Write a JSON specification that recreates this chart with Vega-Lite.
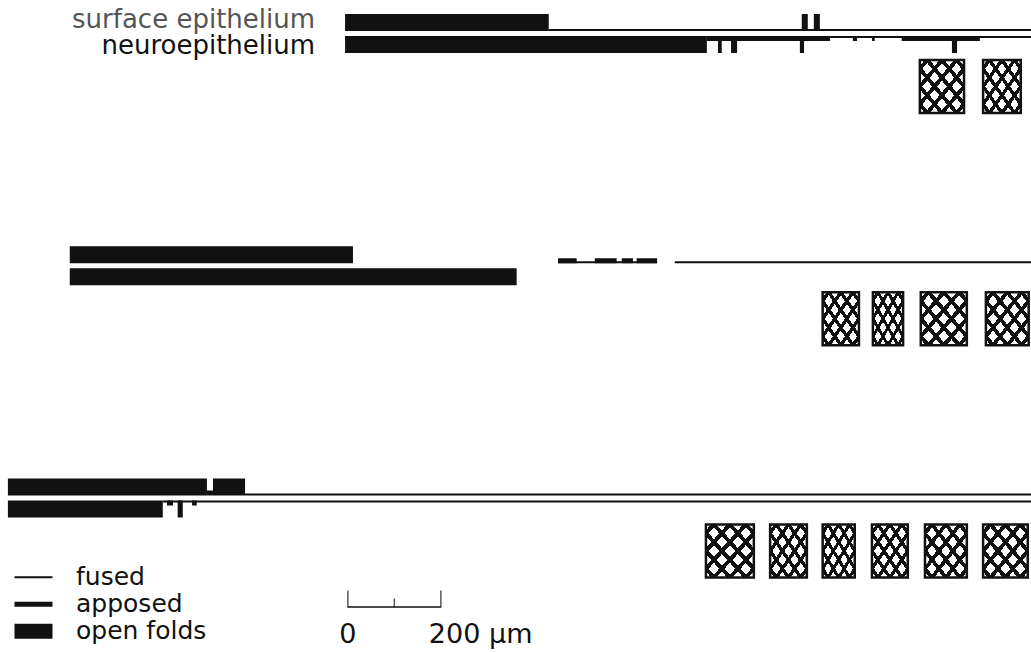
{
  "$schema": "https://vega.github.io/schema/vega-lite/v6.json",
  "width": 1031,
  "height": 652,
  "autosize": {"type": "none"},
  "padding": 0,
  "background": "white",
  "config": {"view": {"stroke": null}, "font": "DejaVu Sans"},
  "datasets": {
    "segments": [
      {"embryo": "A", "tissue": "surface epithelium", "state": "open folds", "start": -6, "end": 432},
      {"embryo": "A", "tissue": "surface epithelium", "state": "fused", "start": 432, "end": 1469},
      {"embryo": "A", "tissue": "surface epithelium", "state": "open folds", "start": 976, "end": 989},
      {"embryo": "A", "tissue": "surface epithelium", "state": "open folds", "start": 1002, "end": 1015},
      {"embryo": "A", "tissue": "neuroepithelium", "state": "open folds", "start": -6, "end": 772},
      {"embryo": "A", "tissue": "neuroepithelium", "state": "apposed", "start": 772, "end": 1037},
      {"embryo": "A", "tissue": "neuroepithelium", "state": "open folds", "start": 796, "end": 804},
      {"embryo": "A", "tissue": "neuroepithelium", "state": "open folds", "start": 824, "end": 837},
      {"embryo": "A", "tissue": "neuroepithelium", "state": "open folds", "start": 972, "end": 981},
      {"embryo": "A", "tissue": "neuroepithelium", "state": "fused", "start": 1037, "end": 1469},
      {"embryo": "A", "tissue": "neuroepithelium", "state": "apposed", "start": 1086, "end": 1095},
      {"embryo": "A", "tissue": "neuroepithelium", "state": "apposed", "start": 1127, "end": 1133},
      {"embryo": "A", "tissue": "neuroepithelium", "state": "apposed", "start": 1191, "end": 1359},
      {"embryo": "A", "tissue": "neuroepithelium", "state": "open folds", "start": 1299, "end": 1310},
      {"embryo": "B", "tissue": "surface epithelium", "state": "open folds", "start": -598, "end": 11},
      {"embryo": "B", "tissue": "surface epithelium", "state": "fused", "start": 452, "end": 665},
      {"embryo": "B", "tissue": "surface epithelium", "state": "apposed", "start": 452, "end": 492},
      {"embryo": "B", "tissue": "surface epithelium", "state": "apposed", "start": 531, "end": 578},
      {"embryo": "B", "tissue": "surface epithelium", "state": "apposed", "start": 589, "end": 613},
      {"embryo": "B", "tissue": "surface epithelium", "state": "apposed", "start": 621, "end": 665},
      {"embryo": "B", "tissue": "surface epithelium", "state": "fused", "start": 703, "end": 1469},
      {"embryo": "B", "tissue": "neuroepithelium", "state": "open folds", "start": -598, "end": 363},
      {"embryo": "C", "tissue": "surface epithelium", "state": "open folds", "start": -731, "end": -303},
      {"embryo": "C", "tissue": "surface epithelium", "state": "apposed", "start": -303, "end": -290},
      {"embryo": "C", "tissue": "surface epithelium", "state": "open folds", "start": -290, "end": -221},
      {"embryo": "C", "tissue": "surface epithelium", "state": "fused", "start": -221, "end": 1469},
      {"embryo": "C", "tissue": "neuroepithelium", "state": "open folds", "start": -731, "end": -398},
      {"embryo": "C", "tissue": "neuroepithelium", "state": "fused", "start": -398, "end": 1469},
      {"embryo": "C", "tissue": "neuroepithelium", "state": "apposed", "start": -389, "end": -376},
      {"embryo": "C", "tissue": "neuroepithelium", "state": "open folds", "start": -366, "end": -355},
      {"embryo": "C", "tissue": "neuroepithelium", "state": "apposed", "start": -335, "end": -325}
    ],
    "somites": [
      {"embryo": "A", "start": 1230, "end": 1325},
      {"embryo": "A", "start": 1366, "end": 1447},
      {"embryo": "B", "start": 1021, "end": 1099},
      {"embryo": "B", "start": 1129, "end": 1194},
      {"embryo": "B", "start": 1232, "end": 1331},
      {"embryo": "B", "start": 1372, "end": 1464},
      {"embryo": "C", "start": 770, "end": 873},
      {"embryo": "C", "start": 908, "end": 987},
      {"embryo": "C", "start": 1021, "end": 1090},
      {"embryo": "C", "start": 1127, "end": 1204},
      {"embryo": "C", "start": 1241, "end": 1331},
      {"embryo": "C", "start": 1366, "end": 1462}
    ],
    "scalebar": [
      {"um": 0, "major": true, "label": "0"},
      {"um": 100, "major": false, "label": ""},
      {"um": 200, "major": true, "label": "200 μm"}
    ]
  },
  "layer": [
    {
      "data": {"name": "segments"},
      "transform": [{"filter": "false"}],
      "mark": {"type": "rule", "color": "#111"},
      "encoding": {
        "x": {"field": "start", "type": "quantitative", "axis": null, "scale": {"domain": [-748, 1469], "nice": false, "zero": false}},
        "x2": {"field": "end"},
        "y": {"field": "embryo", "type": "nominal", "axis": null, "scale": {"domain": ["A", "B", "C"], "range": [-82.6, 614.1], "paddingInner": 0, "paddingOuter": 0}},
        "strokeWidth": {"field": "state", "type": "nominal", "title": null,
          "scale": {"type": "ordinal", "domain": ["fused", "apposed", "open folds"], "range": [2, 5, 15]},
          "legend": {"orient": "none", "legendX": 7, "legendY": 564, "padding": 0, "symbolType": "stroke", "symbolSize": 1444, "symbolStrokeColor": "#111", "labelFontSize": 25, "labelFont": "DejaVu Sans", "labelColor": "#111", "labelOffset": 16, "rowPadding": 0, "clipHeight": 26.5, "title": null}}
      }
    },
    {
      "data": {"name": "segments"},
      "transform": [{"filter": "datum.tissue == 'surface epithelium' && datum.state == 'fused'"}],
      "mark": {"type": "bar", "color": "#111", "height": 2, "yOffset": -3.5},
      "encoding": {
        "x": {"field": "start", "type": "quantitative"},
        "x2": {"field": "end"},
        "y": {"field": "embryo", "type": "nominal"}
      }
    },
    {
      "data": {"name": "segments"},
      "transform": [{"filter": "datum.tissue == 'neuroepithelium' && datum.state == 'fused'"}],
      "mark": {"type": "bar", "color": "#111", "height": 2, "yOffset": 3.5},
      "encoding": {
        "x": {"field": "start", "type": "quantitative"},
        "x2": {"field": "end"},
        "y": {"field": "embryo", "type": "nominal"}
      }
    },
    {
      "data": {"name": "segments"},
      "transform": [{"filter": "datum.tissue == 'surface epithelium' && datum.state == 'apposed'"}],
      "mark": {"type": "bar", "color": "#111", "height": 5, "yOffset": -5},
      "encoding": {
        "x": {"field": "start", "type": "quantitative"},
        "x2": {"field": "end"},
        "y": {"field": "embryo", "type": "nominal"}
      }
    },
    {
      "data": {"name": "segments"},
      "transform": [{"filter": "datum.tissue == 'neuroepithelium' && datum.state == 'apposed'"}],
      "mark": {"type": "bar", "color": "#111", "height": 5, "yOffset": 5},
      "encoding": {
        "x": {"field": "start", "type": "quantitative"},
        "x2": {"field": "end"},
        "y": {"field": "embryo", "type": "nominal"}
      }
    },
    {
      "data": {"name": "segments"},
      "transform": [{"filter": "datum.tissue == 'surface epithelium' && datum.state == 'open folds'"}],
      "mark": {"type": "bar", "color": "#111", "height": 17, "yOffset": -11},
      "encoding": {
        "x": {"field": "start", "type": "quantitative"},
        "x2": {"field": "end"},
        "y": {"field": "embryo", "type": "nominal"}
      }
    },
    {
      "data": {"name": "segments"},
      "transform": [{"filter": "datum.tissue == 'neuroepithelium' && datum.state == 'open folds'"}],
      "mark": {"type": "bar", "color": "#111", "height": 17, "yOffset": 11},
      "encoding": {
        "x": {"field": "start", "type": "quantitative"},
        "x2": {"field": "end"},
        "y": {"field": "embryo", "type": "nominal"}
      }
    },
    {
      "data": {"name": "somites"},
      "mark": {"type": "bar", "height": 53, "yOffset": 53, "stroke": "#111", "strokeWidth": 2.5,
        "fill": {"gradient": "linear", "x1": 0, "y1": 0, "x2": 1, "y2": 1, "stops": [
          {"offset": 0, "color": "white"},
          {"offset": 0.055, "color": "white"}, {"offset": 0.055, "color": "#111"}, {"offset": 0.111, "color": "#111"}, {"offset": 0.111, "color": "white"},
          {"offset": 0.222, "color": "white"}, {"offset": 0.222, "color": "#111"}, {"offset": 0.278, "color": "#111"}, {"offset": 0.278, "color": "white"},
          {"offset": 0.389, "color": "white"}, {"offset": 0.389, "color": "#111"}, {"offset": 0.445, "color": "#111"}, {"offset": 0.445, "color": "white"},
          {"offset": 0.555, "color": "white"}, {"offset": 0.555, "color": "#111"}, {"offset": 0.611, "color": "#111"}, {"offset": 0.611, "color": "white"},
          {"offset": 0.722, "color": "white"}, {"offset": 0.722, "color": "#111"}, {"offset": 0.778, "color": "#111"}, {"offset": 0.778, "color": "white"},
          {"offset": 0.889, "color": "white"}, {"offset": 0.889, "color": "#111"}, {"offset": 0.945, "color": "#111"}, {"offset": 0.945, "color": "white"},
          {"offset": 1, "color": "white"}
        ]}},
      "encoding": {
        "x": {"field": "start", "type": "quantitative"},
        "x2": {"field": "end"},
        "y": {"field": "embryo", "type": "nominal"}
      }
    },
    {
      "data": {"name": "somites"},
      "mark": {"type": "bar", "height": 53, "yOffset": 53, "stroke": null,
        "fill": {"gradient": "linear", "x1": 1, "y1": 0, "x2": 0, "y2": 1, "stops": [
          {"offset": 0, "color": "transparent"},
          {"offset": 0.055, "color": "transparent"}, {"offset": 0.055, "color": "#111"}, {"offset": 0.111, "color": "#111"}, {"offset": 0.111, "color": "transparent"},
          {"offset": 0.222, "color": "transparent"}, {"offset": 0.222, "color": "#111"}, {"offset": 0.278, "color": "#111"}, {"offset": 0.278, "color": "transparent"},
          {"offset": 0.389, "color": "transparent"}, {"offset": 0.389, "color": "#111"}, {"offset": 0.445, "color": "#111"}, {"offset": 0.445, "color": "transparent"},
          {"offset": 0.555, "color": "transparent"}, {"offset": 0.555, "color": "#111"}, {"offset": 0.611, "color": "#111"}, {"offset": 0.611, "color": "transparent"},
          {"offset": 0.722, "color": "transparent"}, {"offset": 0.722, "color": "#111"}, {"offset": 0.778, "color": "#111"}, {"offset": 0.778, "color": "transparent"},
          {"offset": 0.889, "color": "transparent"}, {"offset": 0.889, "color": "#111"}, {"offset": 0.945, "color": "#111"}, {"offset": 0.945, "color": "transparent"},
          {"offset": 1, "color": "transparent"}
        ]}},
      "encoding": {
        "x": {"field": "start", "type": "quantitative"},
        "x2": {"field": "end"},
        "y": {"field": "embryo", "type": "nominal"}
      }
    },
    {
      "data": {"name": "segments"},
      "transform": [
        {"filter": "datum.embryo == 'A' && datum.tissue == 'surface epithelium'"},
        {"aggregate": [{"op": "min", "field": "start", "as": "first"}], "groupby": ["embryo", "tissue"]}
      ],
      "mark": {"type": "text", "align": "right", "baseline": "middle", "dx": -30, "yOffset": -14, "fontSize": 26, "font": "DejaVu Sans", "color": "#555"},
      "encoding": {
        "x": {"field": "first", "type": "quantitative"},
        "y": {"field": "embryo", "type": "nominal"},
        "text": {"field": "tissue"}
      }
    },
    {
      "data": {"name": "segments"},
      "transform": [
        {"filter": "datum.embryo == 'A' && datum.tissue == 'neuroepithelium'"},
        {"aggregate": [{"op": "min", "field": "start", "as": "first"}], "groupby": ["embryo", "tissue"]}
      ],
      "mark": {"type": "text", "align": "right", "baseline": "middle", "dx": -30, "yOffset": 12, "fontSize": 26, "font": "DejaVu Sans", "color": "#111"},
      "encoding": {
        "x": {"field": "first", "type": "quantitative"},
        "y": {"field": "embryo", "type": "nominal"},
        "text": {"field": "tissue"}
      }
    },
    {
      "data": {"name": "scalebar"},
      "transform": [{"aggregate": [{"op": "min", "field": "um", "as": "from"}, {"op": "max", "field": "um", "as": "to"}]}],
      "mark": {"type": "rule", "color": "#111", "strokeWidth": 1.5, "yOffset": 109},
      "encoding": {
        "x": {"field": "from", "type": "quantitative"},
        "x2": {"field": "to"},
        "y": {"datum": "C", "type": "nominal"}
      }
    },
    {
      "data": {"name": "scalebar"},
      "transform": [{"filter": "datum.major"}],
      "mark": {"type": "tick", "orient": "vertical", "color": "#111", "thickness": 1.5, "size": 17, "yOffset": 101},
      "encoding": {
        "x": {"field": "um", "type": "quantitative"},
        "y": {"datum": "C", "type": "nominal"}
      }
    },
    {
      "data": {"name": "scalebar"},
      "transform": [{"filter": "!datum.major"}],
      "mark": {"type": "tick", "orient": "vertical", "color": "#111", "thickness": 1.5, "size": 9, "yOffset": 105},
      "encoding": {
        "x": {"field": "um", "type": "quantitative"},
        "y": {"datum": "C", "type": "nominal"}
      }
    },
    {
      "data": {"name": "scalebar"},
      "transform": [{"filter": "datum.um == 0"}],
      "mark": {"type": "text", "align": "center", "baseline": "middle", "yOffset": 137, "fontSize": 27, "font": "DejaVu Sans", "color": "#111"},
      "encoding": {
        "x": {"field": "um", "type": "quantitative"},
        "y": {"datum": "C", "type": "nominal"},
        "text": {"field": "label"}
      }
    },
    {
      "data": {"name": "scalebar"},
      "transform": [{"filter": "datum.um == 200"}],
      "mark": {"type": "text", "align": "left", "baseline": "middle", "dx": -12, "yOffset": 137, "fontSize": 27, "font": "DejaVu Sans", "color": "#111"},
      "encoding": {
        "x": {"field": "um", "type": "quantitative"},
        "y": {"datum": "C", "type": "nominal"},
        "text": {"field": "label"}
      }
    }
  ]
}
